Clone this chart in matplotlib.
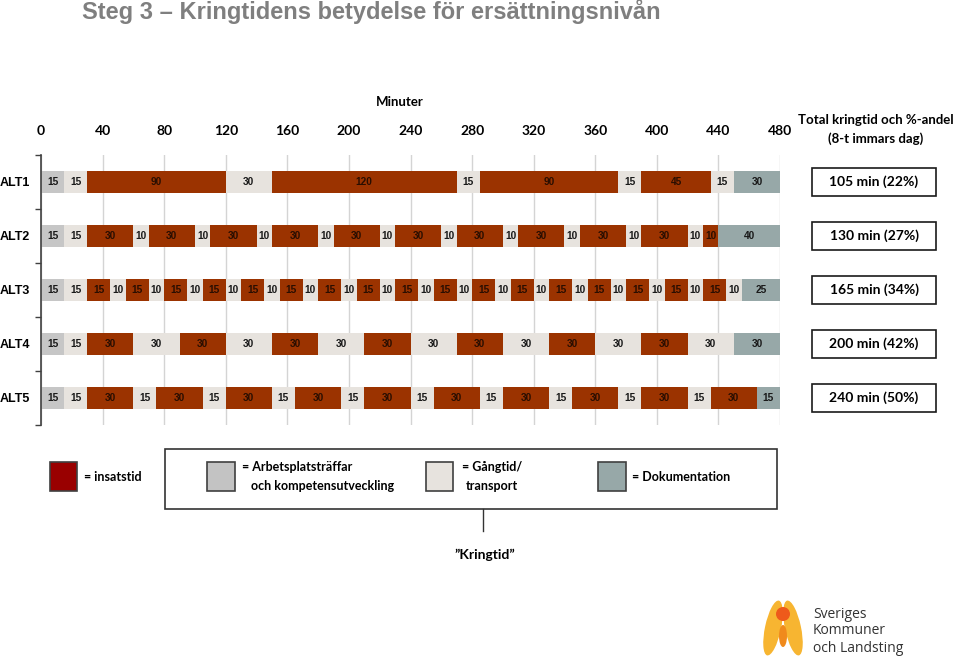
import matplotlib
matplotlib.use("Agg")
import matplotlib.pyplot as plt
import matplotlib.transforms as mtransforms
from matplotlib.patches import Rectangle, Ellipse, Circle

# ---- data ----
rows = ["ALT1", "ALT2", "ALT3", "ALT4", "ALT5"]
ticks = [0, 40, 80, 120, 160, 200, 240, 280, 320, 360, 400, 440, 480]

# A = arbetsplatsträffar, W = gångtid/transport, I = insatstid, D = dokumentation
alt1_min = [15, 15, 90, 30, 120, 15, 90, 15, 45, 15, 30]
alt1_kind = ["A", "W", "I", "W", "I", "W", "I", "W", "I", "W", "D"]

alt2_min = [15, 15, 30, 10, 30, 10, 30, 10, 30, 10, 30, 10, 30, 10, 30, 10,
            30, 10, 30, 10, 30, 10, 10, 40]
alt2_kind = ["A", "W", "I", "W", "I", "W", "I", "W", "I", "W", "I", "W", "I", "W",
             "I", "W", "I", "W", "I", "W", "I", "W", "I", "D"]

alt3_min = [15, 15, 15, 10, 15, 10, 15, 10, 15, 10, 15, 10, 15, 10, 15, 10, 15, 10,
            15, 10, 15, 10, 15, 10, 15, 10, 15, 10, 15, 10, 15, 10, 15, 10, 15, 10, 25]
alt3_kind = ["A", "W", "I", "W", "I", "W", "I", "W", "I", "W", "I", "W", "I", "W",
             "I", "W", "I", "W", "I", "W", "I", "W", "I", "W", "I", "W", "I", "W",
             "I", "W", "I", "W", "I", "W", "I", "W", "D"]

alt4_min = [15, 15, 30, 30, 30, 30, 30, 30, 30, 30, 30, 30, 30, 30, 30, 30, 30]
alt4_kind = ["A", "W", "I", "W", "I", "W", "I", "W", "I", "W", "I", "W", "I", "W",
             "I", "W", "D"]

alt5_min = [15, 15, 30, 15, 30, 15, 30, 15, 30, 15, 30, 15, 30, 15, 30, 15, 30, 15,
            30, 15, 30, 15]
alt5_kind = ["A", "W", "I", "W", "I", "W", "I", "W", "I", "W", "I", "W", "I", "W",
             "I", "W", "I", "W", "I", "W", "I", "D"]

totals = ["105 min (22%)", "130 min (27%)", "165 min (34%)", "200 min (42%)", "240 min (50%)"]

segments = [(alt1_min, alt1_kind), (alt2_min, alt2_kind), (alt3_min, alt3_kind),
            (alt4_min, alt4_kind), (alt5_min, alt5_kind)]

colors = {"I": "#9b3300", "A": "#c6c6c6", "W": "#e7e3de", "D": "#97a8a8"}
text_col = {"I": "#2a0e00", "A": "#1a1a1a", "W": "#1a1a1a", "D": "#1a1a1a"}

W, H = 960, 659
fig = plt.figure(figsize=(9.6, 6.59), dpi=100)

# overlay axes in pixel coordinates for the free annotations
over = fig.add_axes([0, 0, 1, 1], zorder=0)
over.set_xlim(0, W)
over.set_ylim(H, 0)
over.axis("off")

# main bar axes: x 0..480 -> px 41..780, rows px 155..425
ax = fig.add_axes([41 / W, 1 - 425 / H, 739 / W, 270 / H], zorder=1)
ax.patch.set_visible(False)

for i, (mins, kinds) in enumerate(segments):
    left = 0
    for m, k in zip(mins, kinds):
        ax.barh(i, m, left=left, height=0.41, color=colors[k], edgecolor="none", zorder=2)
        ax.text(left + m / 2, i, str(m), ha="center", va="center", fontsize=7.3,
                fontweight="bold", color=text_col[k], family="Liberation Sans", zorder=3)
        left += m

ax.set_xlim(0, 480)
ax.set_ylim(4.5, -0.5)
ax.set_xticks(ticks)
ax.set_xticklabels([str(t) for t in ticks], fontsize=10, fontweight="bold", family="Lato")
ax.xaxis.tick_top()
ax.tick_params(axis="x", length=0, pad=13)
ax.grid(axis="x", color="#d4d4d4", lw=1, zorder=0)
ax.set_axisbelow(True)

ax.set_yticks(range(len(rows)))
ax.set_yticklabels(rows, fontsize=9, fontweight="bold", family="Liberation Sans")
ax.tick_params(axis="y", length=0, pad=8)
ax.set_yticks([-0.5, 0.5, 1.5, 2.5, 3.5, 4.5], minor=True)
ax.tick_params(axis="y", which="minor", length=4, width=1, color="#404040")
for s in ["top", "right", "bottom"]:
    ax.spines[s].set_visible(False)
ax.spines["left"].set_color("#404040")
ax.spines["left"].set_linewidth(1.2)

# title and header texts
over.text(82, 12, "Steg 3 \u2013 Kringtidens betydelse för ersättningsnivån", fontsize=17,
          fontweight="bold", color="#7f7f7f", ha="left", va="center",
          family=["Liberation Sans Narrow", "Liberation Sans"])
over.text(400, 102, "Minuter", fontsize=9.5, fontweight="bold", ha="center", va="center",
          family="Lato")
over.text(876, 120, "Total kringtid och %-andel", fontsize=9.5, fontweight="bold",
          ha="center", va="center", family="Lato")
over.text(876, 139, "(8-t immars dag)", fontsize=9.5, fontweight="bold",
          ha="center", va="center", family="Lato")

# total boxes aligned with rows
tr = mtransforms.blended_transform_factory(over.transData, ax.transData)
for i, t in enumerate(totals):
    over.add_patch(Rectangle((812, i - 0.26), 124, 0.52, transform=tr, fill=False,
                             edgecolor="#1a1a1a", lw=1.2, clip_on=False))
    over.text(874, i, t, transform=tr, ha="center", va="center", fontsize=10,
              fontweight="bold", family="Lato")

# legend
over.add_patch(Rectangle((50, 462), 27, 29, facecolor="#990000", edgecolor="#404040", lw=1.2))
over.text(84, 477, "= insatstid", fontsize=9, fontweight="bold", va="center", family="Lato")
over.add_patch(Rectangle((165, 449), 612, 60, fill=False, edgecolor="#333333", lw=1.2))
over.add_patch(Rectangle((207, 462), 28, 29, facecolor="#c3c3c3", edgecolor="#404040", lw=1.2))
over.text(242, 467, "= Arbetsplatsträffar", fontsize=9, fontweight="bold", va="center", family="Lato")
over.text(251, 486, "och kompetensutveckling", fontsize=9, fontweight="bold", va="center", family="Lato")
over.add_patch(Rectangle((426, 462), 27, 29, facecolor="#e7e3de", edgecolor="#404040", lw=1.2))
over.text(462, 467, "= Gångtid/", fontsize=9, fontweight="bold", va="center", family="Lato")
over.text(466, 486, "transport", fontsize=9, fontweight="bold", va="center", family="Lato")
over.add_patch(Rectangle((598, 462), 28, 29, facecolor="#97a8a8", edgecolor="#404040", lw=1.2))
over.text(632, 477, "= Dokumentation", fontsize=9, fontweight="bold", va="center", family="Lato")
over.plot([483, 483], [509, 531], color="#333333", lw=1)
over.text(485, 555, "\u201dKringtid\u201d", fontsize=10, fontweight="bold", ha="center",
          va="center", family="Lato")

# logo (approximation)
over.add_patch(Ellipse((773, 628), 16, 56, angle=12, facecolor="#f7b531", edgecolor="none"))
over.add_patch(Ellipse((793, 628), 16, 56, angle=-12, facecolor="#f7b531", edgecolor="none"))
over.add_patch(Ellipse((783, 636), 8, 22, facecolor="#f08a1c", edgecolor="none"))
over.add_patch(Circle((783, 614), 7, facecolor="#ee5a1b", edgecolor="none"))
for k, line in enumerate(["Sveriges", "Kommuner", "och Landsting"]):
    over.text(813, 614 + 17 * k, line, fontsize=10, color="#333333", va="center",
              family="Open Sans")

fig.savefig("out.png", dpi=100)
